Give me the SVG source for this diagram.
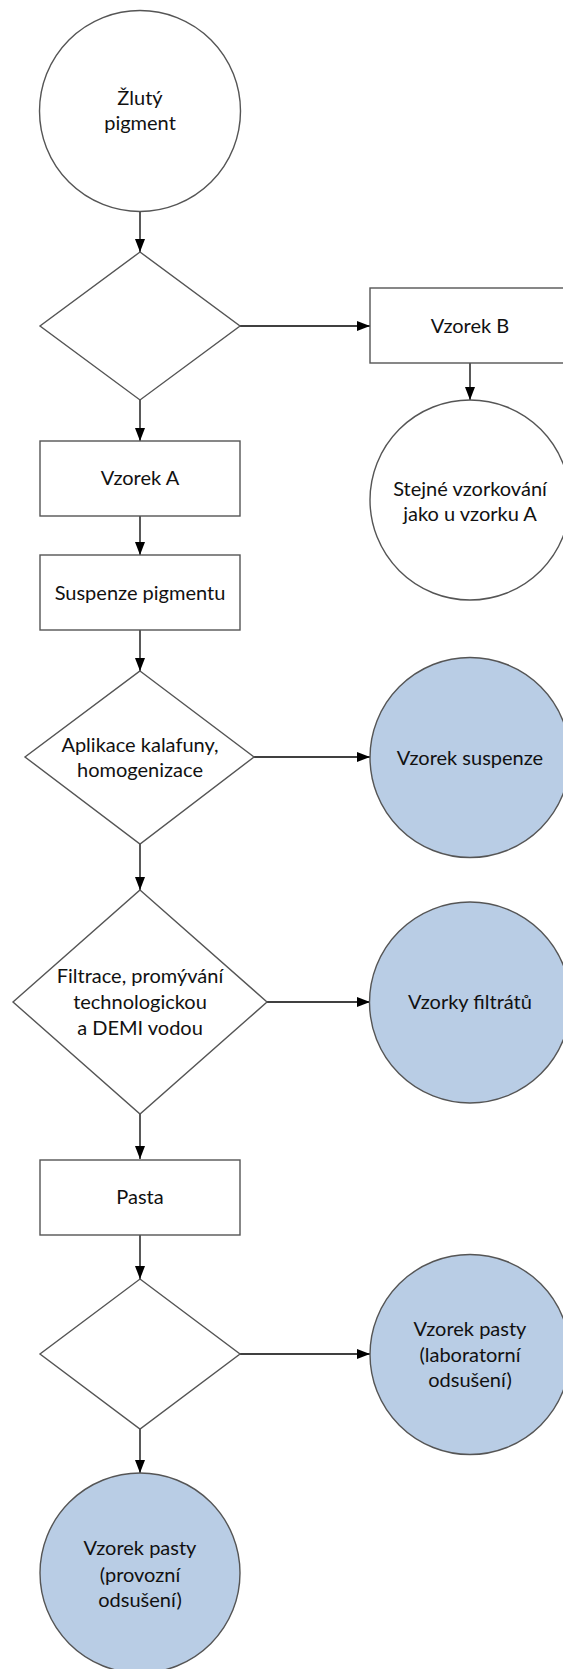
<svg xmlns="http://www.w3.org/2000/svg" width="563" height="1669" viewBox="0 0 563 1669">
<style>
.n{stroke:#555;stroke-width:1.4;fill:#fff}
.b{fill:#b9cde5}
.t{font-family:Lato,"Open Sans",sans-serif;font-size:20px;fill:#111;text-anchor:middle}
.c{stroke:#000;stroke-width:1.3;fill:none;marker-end:url(#ah)}
</style>
<defs>
<marker id="ah" markerWidth="13" markerHeight="10" refX="13" refY="5" orient="auto" markerUnits="userSpaceOnUse">
<path d="M0,0 L13,5 L0,10 Z" fill="#000"/>
</marker>
</defs>
<rect width="563" height="1669" fill="#fff"/>
<g id="connectors">
<line class="c" x1="140" y1="211" x2="140" y2="252"/>
<line class="c" x1="240" y1="326" x2="370" y2="326"/>
<line class="c" x1="470" y1="363" x2="470" y2="400"/>
<line class="c" x1="140" y1="400" x2="140" y2="441"/>
<line class="c" x1="140" y1="516" x2="140" y2="555"/>
<line class="c" x1="140" y1="630" x2="140" y2="671"/>
<line class="c" x1="254" y1="757" x2="370" y2="757"/>
<line class="c" x1="140" y1="844" x2="140" y2="890"/>
<line class="c" x1="267" y1="1002" x2="370" y2="1002"/>
<line class="c" x1="140" y1="1114" x2="140" y2="1159"/>
<line class="c" x1="140" y1="1235" x2="140" y2="1279"/>
<line class="c" x1="240" y1="1354" x2="370" y2="1354"/>
<line class="c" x1="140" y1="1429" x2="140" y2="1473"/>
</g>
<g id="zluty-pigment">
<circle class="n" cx="140" cy="111" r="100.5"/>
<text class="t" x="140" y="105">Žlutý</text>
<text class="t" x="140" y="130">pigment</text>
</g>
<g id="decision1">
<polygon class="n" points="140,252 240,326 140,400 40,326"/>
</g>
<g id="vzorek-b">
<rect class="n" x="370" y="288" width="200" height="75"/>
<text class="t" x="470" y="333">Vzorek B</text>
</g>
<g id="stejne-vzorkovani">
<circle class="n" cx="470" cy="500" r="100"/>
<text class="t" x="470" y="496">Stejné vzorkování</text>
<text class="t" x="470" y="521">jako u vzorku A</text>
</g>
<g id="vzorek-a">
<rect class="n" x="40" y="441" width="200" height="75"/>
<text class="t" x="140" y="485">Vzorek A</text>
</g>
<g id="suspenze-pigmentu">
<rect class="n" x="40" y="555" width="200" height="75"/>
<text class="t" x="140" y="600">Suspenze pigmentu</text>
</g>
<g id="aplikace-kalafuny">
<polygon class="n" points="140,671 254,757 140,844 25,757"/>
<text class="t" x="140" y="752">Aplikace kalafuny,</text>
<text class="t" x="140" y="777">homogenizace</text>
</g>
<g id="vzorek-suspenze">
<circle class="n b" cx="470" cy="757.5" r="100"/>
<text class="t" x="470" y="765">Vzorek suspenze</text>
</g>
<g id="filtrace">
<polygon class="n" points="140,890 267,1002 140,1114 13,1002"/>
<text class="t" x="140" y="983">Filtrace, promývání</text>
<text class="t" x="140" y="1009">technologickou</text>
<text class="t" x="140" y="1035">a DEMI vodou</text>
</g>
<g id="vzorky-filtratu">
<circle class="n b" cx="470" cy="1002.5" r="100.5"/>
<text class="t" x="470" y="1009">Vzorky filtrátů</text>
</g>
<g id="pasta">
<rect class="n" x="40" y="1160" width="200" height="75"/>
<text class="t" x="140" y="1204">Pasta</text>
</g>
<g id="decision4">
<polygon class="n" points="140,1279 240,1354 140,1429 40,1354"/>
</g>
<g id="vzorek-pasty-lab">
<circle class="n b" cx="470" cy="1354.5" r="100"/>
<text class="t" x="470" y="1336">Vzorek pasty</text>
<text class="t" x="470" y="1362">(laboratorní</text>
<text class="t" x="470" y="1387">odsušení)</text>
</g>
<g id="vzorek-pasty-provozni">
<circle class="n b" cx="140" cy="1573" r="100"/>
<text class="t" x="140" y="1555">Vzorek pasty</text>
<text class="t" x="140" y="1582">(provozní</text>
<text class="t" x="140" y="1607">odsušení)</text>
</g>
</svg>
